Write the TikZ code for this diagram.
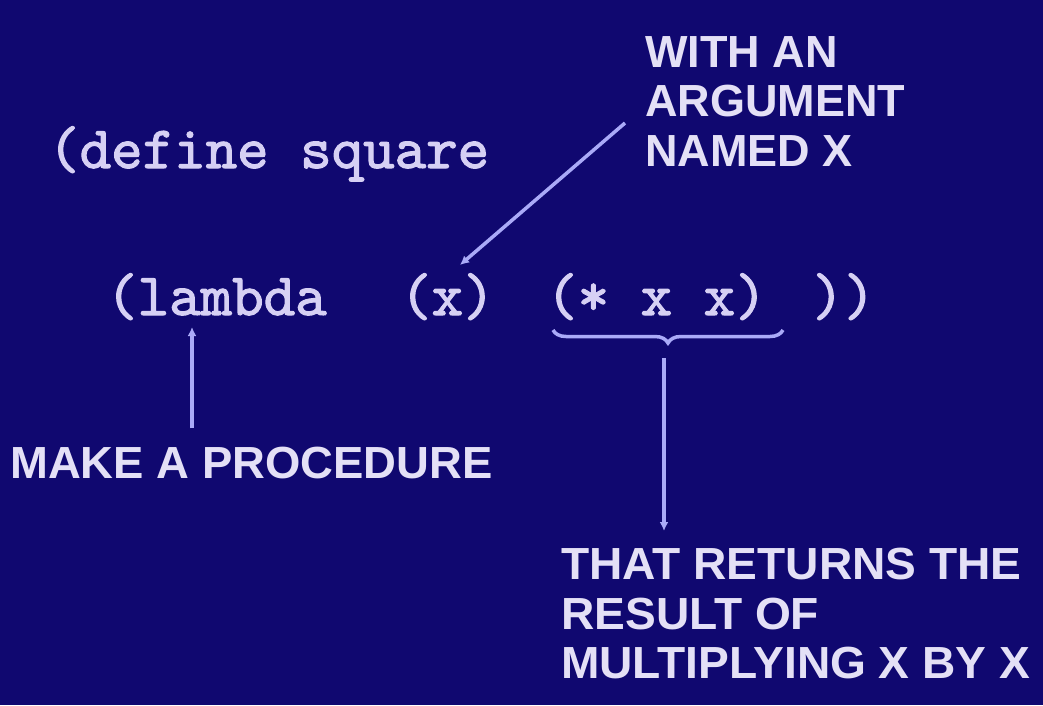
\documentclass[tikz,border=0pt]{standalone}
\usepackage{fontspec}
\setmainfont{Liberation Sans}
\newfontfamily\labelfont{Liberation Sans}
\newfontfamily\codefont{lmmono10-regular.otf}[FakeBold=1.8]
\usetikzlibrary{arrows.meta,decorations.pathreplacing,calc}
\definecolor{bg}{RGB}{16,8,112}
\definecolor{ink}{RGB}{228,224,246}
\definecolor{codeink}{RGB}{214,208,244}
\definecolor{wire}{RGB}{170,170,248}
\begin{document}
\begin{tikzpicture}[x=1pt,y=-1pt,
  code/.style={inner sep=0pt,anchor=base west,text=codeink,font=\codefont\fontsize{60}{60}\selectfont},
  lbl/.style={inner sep=0pt,text=ink,align=left,font=\labelfont\bfseries\fontsize{45}{49.5}\selectfont},
  arr/.style={draw=wire,line width=3.5pt,-{Latex[length=9pt,width=9pt]}},
  brc/.style={draw=wire,line width=3.5pt,decorate,decoration={brace,mirror,amplitude=13pt}}]
\fill[bg] (0,0) rectangle (1043,705);
\useasboundingbox (0,0) rectangle (1043,705);
% code
\node[code] (define) at (48,168) {(define square};
\node[code] (lambda) at (106,315) {(lambda};
\node[code] (arg) at (400,315) {(x)};
\node[code] (body) at (546,315) {(* x x)};
\node[code] (close) at (812,315) {))};
% labels
\node[lbl,anchor=north west] (with) at (645,36) {WITH AN\\ARGUMENT\\NAMED X};
\node[lbl,anchor=base west,xscale=1.01] (proc) at (10,478) {MAKE A PROCEDURE};
\node[lbl,anchor=north west,xscale=1.025] (returns) at (561,548) {THAT RETURNS THE\\RESULT OF\\MULTIPLYING X BY X};
% brace under body
\coordinate (bl) at (553,330);
\coordinate (br) at (783,330);
\draw[brc] (bl) -- (br);
% connectors
\coordinate (argtail) at (625,123);
\coordinate (argtip) at (460,265);
\draw[arr] (argtail) -- (argtip);
\coordinate (lamtip) at (192,327);
\draw[arr,shorten <=18pt] (proc.north -| lamtip) -- (lamtip);
\coordinate (bodytail) at (664,358);
\draw[arr,shorten >=17pt] (bodytail) -- (returns.north -| bodytail);
\end{tikzpicture}
\end{document}
